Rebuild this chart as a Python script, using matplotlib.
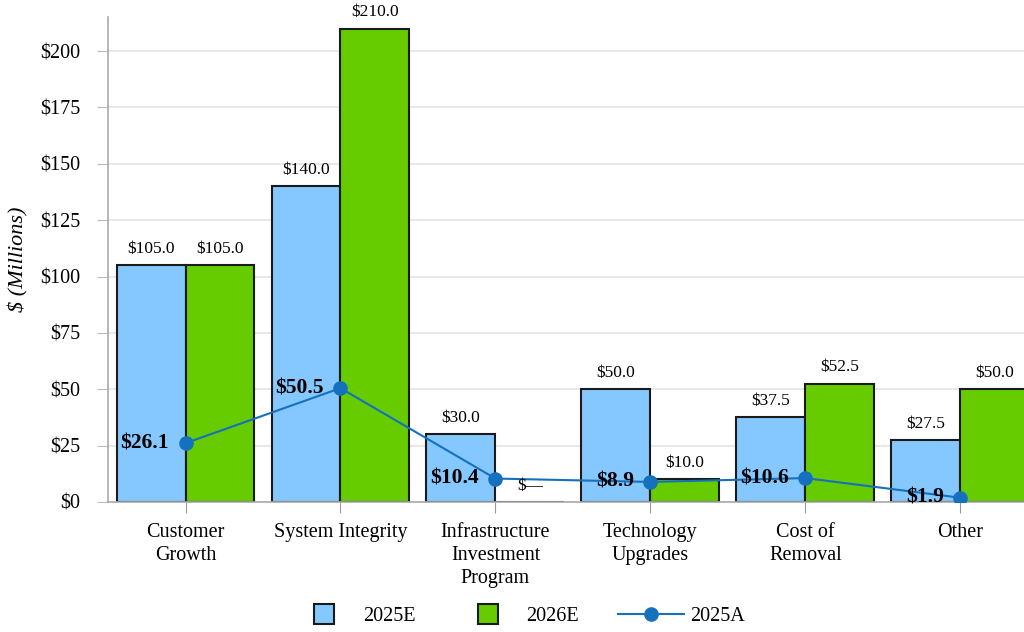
import numpy as np
import matplotlib.pyplot as plt
from matplotlib.lines import Line2D

plt.rcParams['font.family'] = ['Liberation Serif', 'DejaVu Serif']

categories = ['Customer\nGrowth', 'System Integrity', 'Infrastructure\nInvestment\nProgram',
              'Technology\nUpgrades', 'Cost of\nRemoval', 'Other']
est_2025 = [105.0, 140.0, 30.0, 50.0, 37.5, 27.5]
est_2026 = [105.0, 210.0, 0.0, 10.0, 52.5, 50.0]
act_2025 = [26.1, 50.5, 10.4, 8.9, 10.6, 1.9]
yticks = [0, 25, 50, 75, 100, 125, 150, 175, 200]

blue = '#85C8FF'
green = '#66CC00'
line_c = '#1570BE'

fig = plt.figure(figsize=(10.24, 6.32), dpi=100)
ax = fig.add_axes([0.1055, 0.2057, 0.908, 0.767])

x = np.arange(len(categories))
w = 0.445
ax.bar(x - w / 2, est_2025, w, color=blue, edgecolor='#1a1a1a', linewidth=1.5, zorder=2)
ax.bar(x + w / 2, est_2026, w, color=green, edgecolor='#1a1a1a', linewidth=1.5, zorder=2)
ax.plot(x, act_2025, color=line_c, marker='o', markersize=9.5, linewidth=1.5, zorder=4)

# bar value labels
for xs, vals in [(x - w / 2, est_2025), (x + w / 2, est_2026)]:
    for xi, v in zip(xs, vals):
        txt = f'${v:.1f}' if v else '$\u2014'
        ax.annotate(txt, (xi, v), xytext=(0, 6), textcoords='offset points',
                    ha='center', va='bottom', fontsize=12.5, zorder=5)

# actual labels, left of the points
for xi, v in zip(x, act_2025):
    ax.annotate(f'${v:.1f}', (xi, v), xytext=(-12, 0), textcoords='offset points',
                ha='right', va='center', fontsize=15.5, fontweight='bold', zorder=5)

ax.set_xlim(-0.5, 5.5)
ax.set_ylim(0, 215)
ax.set_yticks(yticks)
ax.set_yticklabels([f'${t}' for t in yticks], fontsize=14.5)
ax.set_xticks(x)
ax.set_xticklabels(categories, fontsize=14.5, linespacing=1.3)
ax.tick_params(axis='x', length=8, color='#999999', pad=7)
ax.tick_params(axis='y', length=8, color='#bbbbbb', pad=12)
ax.grid(axis='y', color='#e4e4e4', linewidth=1.2, zorder=0)
ax.set_axisbelow(True)
for s in ['top', 'right']:
    ax.spines[s].set_visible(False)
ax.spines['left'].set_color('#aaaaaa')
ax.spines['bottom'].set_color('#aaaaaa')
ax.spines['left'].set_linewidth(1.2)
ax.spines['bottom'].set_linewidth(1.2)
fig.text(0.018, 0.589, '$ (Millions)', rotation=90, ha='center', va='center',
         fontsize=16, style='italic')

handles = [
    Line2D([], [], linestyle='none', marker='s', markersize=15, markerfacecolor=blue,
           markeredgecolor='#1a1a1a', markeredgewidth=1.5),
    Line2D([], [], linestyle='none', marker='s', markersize=15, markerfacecolor=green,
           markeredgecolor='#1a1a1a', markeredgewidth=1.5),
    Line2D([], [], color=line_c, marker='o', markersize=9.5, linewidth=1.5),
]
fig.legend(handles=handles, labels=['2025E', '2026E', '2025A'],
           loc='center', bbox_to_anchor=(0.506, 0.024), ncol=3, frameon=False,
           fontsize=14.5, handlelength=3.25, handletextpad=0.3, columnspacing=1.95)

fig.savefig('out.png', dpi=100)
